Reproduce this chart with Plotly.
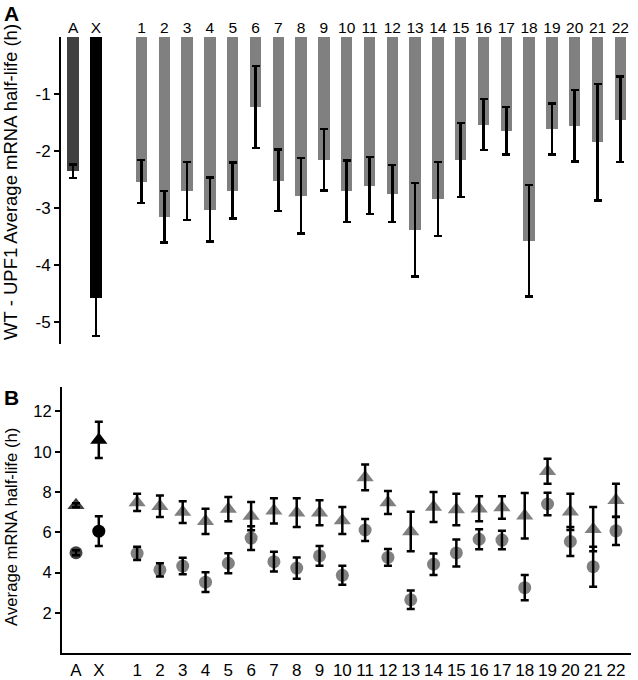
import plotly.graph_objects as go

# ---------------- data ----------------
categories = ["A", "X"] + [str(i) for i in range(1, 23)]

# Panel A: WT - UPF1 difference in average half-life (h)
diff_mean = [-2.36, -4.59, -2.54, -3.16, -2.71, -3.03, -2.70, -1.23, -2.52, -2.79,
             -2.16, -2.71, -2.61, -2.75, -3.39, -2.85, -2.16, -1.54, -1.65, -3.58,
             -1.62, -1.56, -1.85, -1.45]
diff_err = [0.12, 0.66, 0.38, 0.45, 0.51, 0.56, 0.49, 0.72, 0.54, 0.66,
            0.54, 0.54, 0.50, 0.50, 0.82, 0.65, 0.65, 0.45, 0.42, 0.98,
            0.45, 0.63, 1.02, 0.75]
diff_ticks = [-1, -2, -3, -4, -5]

# Panel B: average half-life (h)
upf1_mean = [7.35, 10.59, 7.49, 7.30, 7.01, 6.55, 7.16, 6.81, 7.07, 6.98,
             6.98, 6.59, 8.73, 7.48, 6.05, 7.26, 7.14, 7.18, 7.24, 6.83,
             9.03, 7.02, 6.16, 7.59]
upf1_err = [0.10, 0.90, 0.43, 0.53, 0.54, 0.63, 0.60, 0.70, 0.63, 0.71,
            0.62, 0.67, 0.64, 0.57, 0.98, 0.74, 0.78, 0.62, 0.56, 1.13,
            0.62, 0.90, 1.10, 0.82]
wt_mean = [4.99, 6.06, 4.96, 4.14, 4.33, 3.53, 4.47, 5.72, 4.55, 4.23,
           4.84, 3.87, 6.12, 4.76, 2.66, 4.42, 4.98, 5.66, 5.62, 3.26,
           7.41, 5.55, 4.30, 6.08]
wt_err = [0.12, 0.74, 0.33, 0.33, 0.41, 0.49, 0.49, 0.59, 0.49, 0.53,
          0.49, 0.47, 0.54, 0.42, 0.46, 0.53, 0.67, 0.50, 0.46, 0.63,
          0.56, 0.72, 0.99, 0.70]
half_ticks = [2, 4, 6, 8, 10, 12]

# ---------------- styling / layout helpers ----------------
W, H = 638, 680
FONT = "Liberation Sans, Arial, sans-serif"
DARK, BLACK, GRAY = "#404040", "#000000", "#808080"
colors = [DARK, BLACK] + [GRAY] * 22


def positions(gap):
    return [i + (gap if i >= 2 else 0) for i in range(len(categories))]


xa = positions(1.0)
xb = positions(0.68)


def px(x):
    return x / W


def py(y):
    return 1 - y / H


fig = go.Figure()

# Panel A bars
fig.add_trace(go.Bar(
    x=xa, y=diff_mean, width=0.5, marker=dict(color=colors, line=dict(width=0)),
    error_y=dict(type="data", array=diff_err, color="black", thickness=2.5, width=4),
    xaxis="x", yaxis="y", showlegend=False))

# Panel B markers
fig.add_trace(go.Scatter(
    x=xb, y=upf1_mean, mode="markers",
    marker=dict(symbol="triangle-up", size=15, color=colors, line=dict(width=0)),
    xaxis="x2", yaxis="y2", showlegend=False))
fig.add_trace(go.Scatter(
    x=xb, y=wt_mean, mode="markers",
    marker=dict(symbol="circle", size=13, color=colors, line=dict(width=0)),
    xaxis="x2", yaxis="y2", showlegend=False))
# error bars drawn over markers
for m, e in ((upf1_mean, upf1_err), (wt_mean, wt_err)):
    fig.add_trace(go.Scatter(
        x=xb, y=m, mode="markers", marker=dict(size=1, color="rgba(0,0,0,0)"),
        error_y=dict(type="data", array=e, color="black", thickness=2.5, width=4),
        xaxis="x2", yaxis="y2", showlegend=False))

axis_common = dict(showgrid=False, zeroline=False, fixedrange=True)

fig.update_layout(
    width=W, height=H,
    margin=dict(l=0, r=0, t=0, b=0),
    paper_bgcolor="white", plot_bgcolor="white",
    font=dict(family=FONT, color="black", size=17),
    bargap=0,
    xaxis=dict(domain=[px(61), px(634)], range=[-0.53, 24.6], side="top",
               tickmode="array", tickvals=xa, ticktext=categories,
               tickfont=dict(size=15.5), showline=False, ticks="",
               anchor="y", **axis_common),
    yaxis=dict(domain=[py(346.4), py(37)], range=[-5.4, 0],
               tickmode="array", tickvals=diff_ticks,
               ticktext=[str(v) for v in diff_ticks],
               showline=True, linecolor="black", linewidth=2,
               ticks="outside", ticklen=5, tickwidth=2, tickcolor="black",
               anchor="x", **axis_common),
    xaxis2=dict(domain=[px(62), px(631)], range=[-0.614, 24.34],
                tickmode="array", tickvals=xb, ticktext=categories,
                tickfont=dict(size=17), showline=True, linecolor="black",
                linewidth=2, ticks="", anchor="y2", **axis_common),
    yaxis2=dict(domain=[py(657.2), py(389.6)], range=[0, 13.2],
                tickmode="array", tickvals=half_ticks,
                ticktext=[str(v) for v in half_ticks],
                tickfont=dict(size=16.5),
                showline=True, linecolor="black", linewidth=2,
                ticks="outside", ticklen=5, tickwidth=2, tickcolor="black",
                anchor="x2", **axis_common),
    annotations=[
        dict(text="<b>A</b>", x=px(2), y=py(14), xref="paper", yref="paper",
             xanchor="left", yanchor="middle", showarrow=False,
             font=dict(size=21, family=FONT)),
        dict(text="<b>B</b>", x=px(2), y=py(400), xref="paper", yref="paper",
             xanchor="left", yanchor="middle", showarrow=False,
             font=dict(size=21, family=FONT)),
        dict(text="WT - UPF1 Average mRNA half-life (h)", textangle=-90,
             x=px(11), y=py(183), xref="paper", yref="paper",
             xanchor="center", yanchor="middle", showarrow=False,
             font=dict(size=18.5, family=FONT)),
        dict(text="Average mRNA half-life (h)", textangle=-90,
             x=px(12), y=py(530), xref="paper", yref="paper",
             xanchor="center", yanchor="middle", showarrow=False,
             font=dict(size=16.7, family=FONT)),
    ],
)

fig.write_html("out.html",
               config={"displayModeBar": False},
               post_script="document.body.style.margin='0';"
                           "document.body.style.padding='0';")
